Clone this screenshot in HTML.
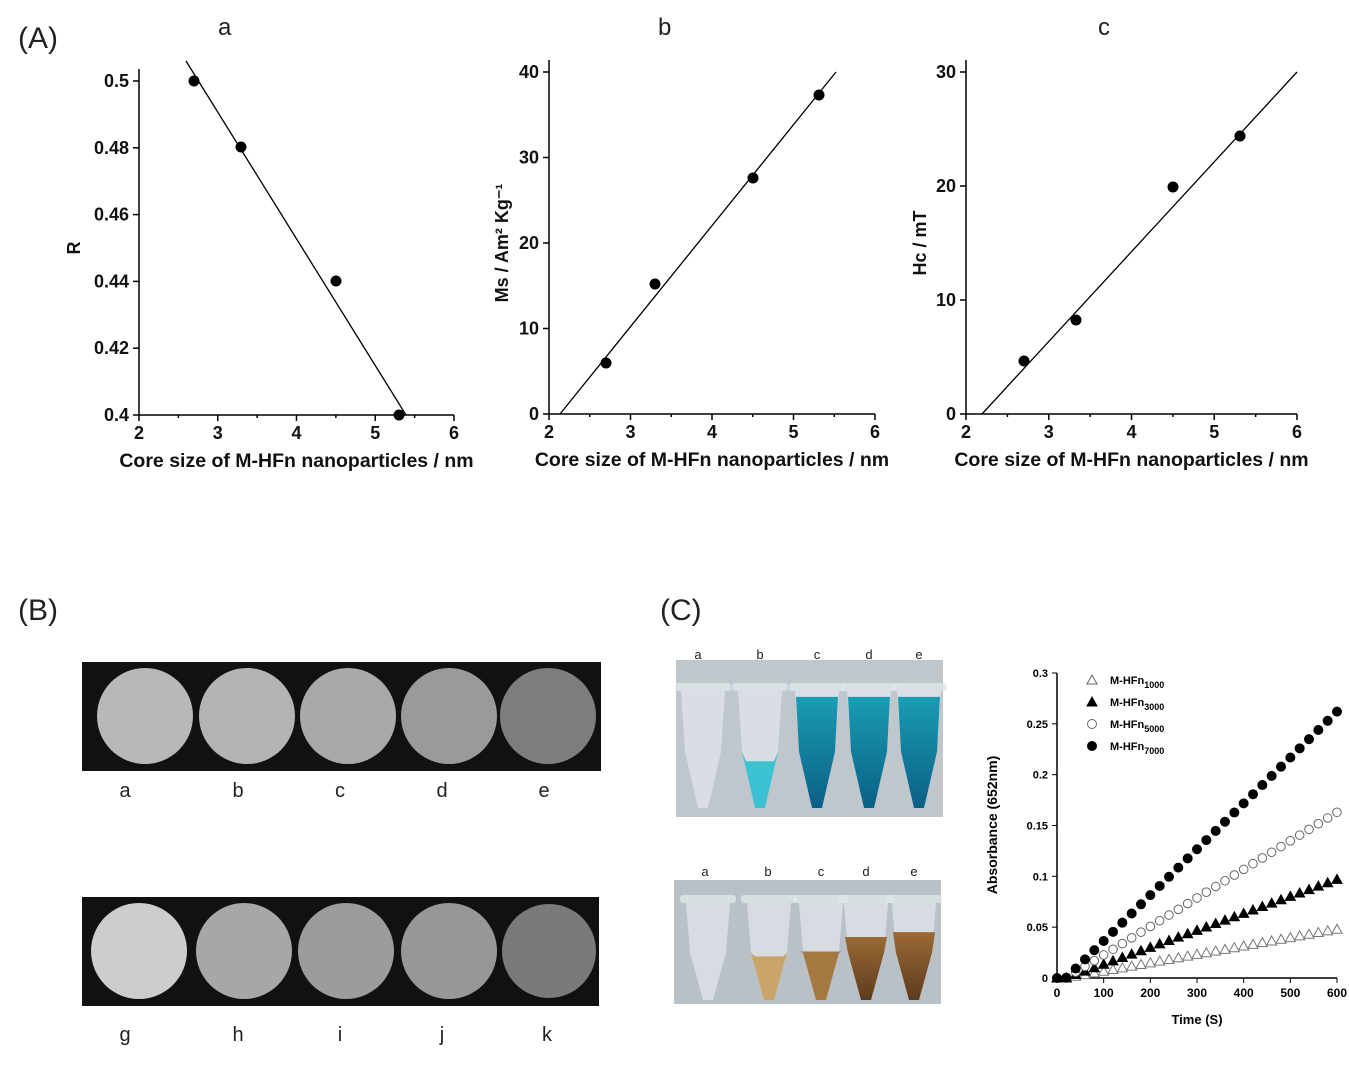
<!DOCTYPE html>
<html><head><style>
body{margin:0;background:#fff;}
svg text{font-family:"Liberation Sans",Arial,sans-serif;}
.b{font-weight:bold;}
</style></head><body>
<svg id="s" width="1349" height="1073" viewBox="0 0 1349 1073" xmlns="http://www.w3.org/2000/svg">
<defs>
<linearGradient id="blue" x1="0" y1="0" x2="0" y2="1"><stop offset="0" stop-color="#1a9cb5"/><stop offset="1" stop-color="#0a5f86"/></linearGradient>
<linearGradient id="brown" x1="0" y1="0" x2="0" y2="1"><stop offset="0" stop-color="#9a6a35"/><stop offset="1" stop-color="#5e3a1e"/></linearGradient>
</defs>
<g font-size="30" fill="#222">
<text x="18" y="48">(A)</text><text x="18" y="620">(B)</text><text x="660" y="620">(C)</text>
</g>
<g font-size="24" fill="#222"><text x="218" y="35">a</text><text x="658" y="35">b</text><text x="1098" y="35">c</text></g>
<g id="charts" stroke="#000" fill="none" stroke-width="1.5"></g>
<g id="txt" font-size="17" class="b" fill="#111"></g>

<rect x="82" y="662" width="519" height="109" fill="#111"/>
<rect x="82" y="897" width="517" height="109" fill="#111"/>
<g>
<circle cx="145" cy="716" r="48" fill="#b8b8b8"/><circle cx="247" cy="716" r="48" fill="#b4b4b4"/><circle cx="348" cy="716" r="48" fill="#a9a9a9"/><circle cx="449" cy="716" r="48" fill="#9a9a9a"/><circle cx="548" cy="716" r="48" fill="#7e7e7e"/>
<circle cx="139" cy="951" r="48" fill="#cdcdcd"/><circle cx="244" cy="951" r="48" fill="#a7a7a7"/><circle cx="346" cy="951" r="48" fill="#9c9c9c"/><circle cx="449" cy="951" r="48" fill="#979797"/><circle cx="549" cy="951" r="47" fill="#7a7a7a"/>
</g>
<g font-size="20" fill="#222" text-anchor="middle">
<text x="125" y="797">a</text><text x="238" y="797">b</text><text x="340" y="797">c</text><text x="442" y="797">d</text><text x="544" y="797">e</text>
<text x="125" y="1041">g</text><text x="238" y="1041">h</text><text x="340" y="1041">i</text><text x="442" y="1041">j</text><text x="547" y="1041">k</text>
</g>
<rect x="676" y="660" width="267" height="157" fill="#bfc6cc"/>
<rect x="674" y="880" width="267" height="124" fill="#b9c0c6"/>
<g id="tubes"></g>
<g font-size="13" fill="#222" text-anchor="middle">
<text x="698" y="659">a</text><text x="760" y="659">b</text><text x="817" y="659">c</text><text x="869" y="659">d</text><text x="919" y="659">e</text>
<text x="705" y="876">a</text><text x="768" y="876">b</text><text x="821" y="876">c</text><text x="866" y="876">d</text><text x="914" y="876">e</text>
</g>
<g id="kin"></g>
</svg>
<script>
var NS="http://www.w3.org/2000/svg",s=document.getElementById('s');
function el(t,a,p){var e=document.createElementNS(NS,t);for(var k in a)e.setAttribute(k,a[k]);(p||s).appendChild(e);return e;}
function tx(x,y,str,a,p){a=a||{};a.x=x;a.y=y;var e=el('text',a,p);e.textContent=str;return e;}
var C=document.getElementById('charts'),T=document.getElementById('txt');
function chart(ax,x6,y0,ytop,yt,lab,pts,line,ylabX,ylab){
 el('line',{x1:ax,y1:ytop-12,x2:ax,y2:y0},C);el('line',{x1:ax,y1:y0,x2:x6,y2:y0},C);
 var dx=(x6-ax)/4;
 for(var i=0;i<=8;i++){var x=ax+dx*i/2;el('line',{x1:x,y1:y0,x2:x,y2:y0+(i%2?3:6)},C);}
 for(var i=0;i<=4;i++)tx(ax+dx*i,y0+24,String(2+i),{'text-anchor':'middle','font-size':'18'},T);
 var n=yt.length-1;
 for(var i=0;i<=n;i++){var y=y0-(y0-ytop)*i/n;el('line',{x1:ax-6,y1:y,x2:ax,y2:y},C);tx(ax-10,y+6,yt[i],{'text-anchor':'end','font-size':'18'},T);}
 tx((ax+x6)/2,y0+52,lab,{'text-anchor':'middle','font-size':'19.5'},T);
 tx(ylabX,(y0+ytop)/2,ylab,{'text-anchor':'middle','font-size':'18',transform:'rotate(-90 '+ylabX+' '+(y0+ytop)/2+')'},T);
 el('line',{x1:line[0],y1:line[1],x2:line[2],y2:line[3],'stroke-width':1.3},C);
 pts.forEach(function(p){el('circle',{cx:p[0],cy:p[1],r:5.5,fill:'#000',stroke:'none'});});
}
var L="Core size of M-HFn nanoparticles / nm";
chart(139,454,415,81,['0.4','0.42','0.44','0.46','0.48','0.5'],L,[[194,81],[241,147],[336,281],[399,415]],[186,61,406,415],80,'R');
chart(549,875,414,72,['0','10','20','30','40'],L,[[606,363],[655,284],[753,178],[819,95]],[560,414,836,72],508,'Ms / Am² Kg⁻¹');
chart(966,1297,414,72,['0','10','20','30'],L,[[1024,361],[1076,320],[1173,187],[1240,136]],[982,414,1297,72],926,'Hc / mT');
var Tb=document.getElementById('tubes');
function tube(cx,top,h,fill,lvl){
 var w=22;
 el('rect',{x:cx-w-6,y:top,width:2*w+12,height:8,rx:3,fill:'#dfe6ea',opacity:0.8},Tb);
 el('path',{d:'M'+(cx-w)+' '+(top+8)+' L'+(cx+w)+' '+(top+8)+' L'+(cx+w-4)+' '+(top+h*0.55)+' L'+(cx+5)+' '+(top+h)+' L'+(cx-5)+' '+(top+h)+' L'+(cx-w+4)+' '+(top+h*0.55)+'Z',fill:'#e2e8ec',opacity:0.7},Tb);
 if(fill){var y1=top+8+(h-8)*lvl;var inb=y1>top+h*0.55;
  el('path',{d:'M'+(cx-w+(inb?8:1))+' '+y1+' L'+(cx+w-(inb?8:1))+' '+y1+' L'+(cx+w-4)+' '+(top+h*0.55)+' L'+(cx+5)+' '+(top+h)+' L'+(cx-5)+' '+(top+h)+' L'+(cx-w+4)+' '+(top+h*0.55)+'Z',fill:fill},Tb);}
}
tube(703,683,125,null);tube(760,683,125,'#3cc2d2',0.6);tube(817,683,125,'url(#blue)',0.05);tube(869,683,125,'url(#blue)',0.05);tube(919,683,125,'url(#blue)',0.05);
tube(708,895,105,null);tube(769,895,105,'#c9a56a',0.55);tube(821,895,105,'#a57840',0.5);tube(866,895,105,'url(#brown)',0.35);tube(914,895,105,'url(#brown)',0.3);
var K=document.getElementById('kin');
var ax=1057,y0=978,yt=673,xr=1337;
el('line',{x1:ax,y1:yt,x2:ax,y2:y0,stroke:'#000','stroke-width':1.5},K);el('line',{x1:ax-4,y1:y0,x2:xr,y2:y0,stroke:'#000','stroke-width':1.5},K);
var yl=['0','0.05','0.1','0.15','0.2','0.25','0.3'];
for(var i=0;i<7;i++){var y=y0-(y0-yt)*i/6;el('line',{x1:ax-5,y1:y,x2:ax,y2:y,stroke:'#000'},K);tx(ax-9,y+4,yl[i],{'text-anchor':'end','font-size':'11','class':'b'},K);}
for(var i=0;i<=6;i++){var x=ax+(xr-ax)*i/6;el('line',{x1:x,y1:y0,x2:x,y2:y0+5,stroke:'#000'},K);tx(x,y0+19,String(i*100),{'text-anchor':'middle','font-size':'12','class':'b'},K);}
tx(1197,1024,'Time (S)',{'text-anchor':'middle','font-size':'13','class':'b'},K);
tx(997,825,'Absorbance (652nm)',{'text-anchor':'middle','font-size':'14','class':'b',transform:'rotate(-90 997 825)'},K);
function px(t){return ax+(xr-ax)*t/600;}function py(v){return y0-(y0-yt)*v/0.3;}
var S=[[0.048,'tri',0],[0.097,'tri',1],[0.163,'cir',0],[0.262,'cir',1]];
S.forEach(function(sr){for(var t=0;t<=600;t+=20){var v=sr[0]*Math.max(0,(t-20*(1-t/600))/600);var x=px(t),y=py(v);
 if(sr[1]=='tri')el('path',{d:'M'+x+' '+(y-5)+' L'+(x+5)+' '+(y+4)+' L'+(x-5)+' '+(y+4)+'Z',fill:sr[2]?'#000':'#fff',stroke:sr[2]?'#000':'#777'},K);
 else el('circle',{cx:x,cy:y,r:sr[2]?4.5:4.3,fill:sr[2]?'#000':'#fff',stroke:sr[2]?'#000':'#666'},K);}});
var leg=[['tri',0,'1000'],['tri',1,'3000'],['cir',0,'5000'],['cir',1,'7000']];
leg.forEach(function(l,i){var x=1092,y=680+i*22;
 if(l[0]=='tri')el('path',{d:'M'+x+' '+(y-5)+' L'+(x+5)+' '+(y+4)+' L'+(x-5)+' '+(y+4)+'Z',fill:l[1]?'#000':'#fff',stroke:l[1]?'#000':'#666'},K);
 else el('circle',{cx:x,cy:y,r:4.5,fill:l[1]?'#000':'#fff',stroke:l[1]?'#000':'#666'},K);
 var t=tx(1110,y+4,'M-HFn',{'font-size':'11','class':'b'},K);var ts=el('tspan',{dy:'4','font-size':'9'},t);ts.textContent=l[2];});
</script>
</body></html>
